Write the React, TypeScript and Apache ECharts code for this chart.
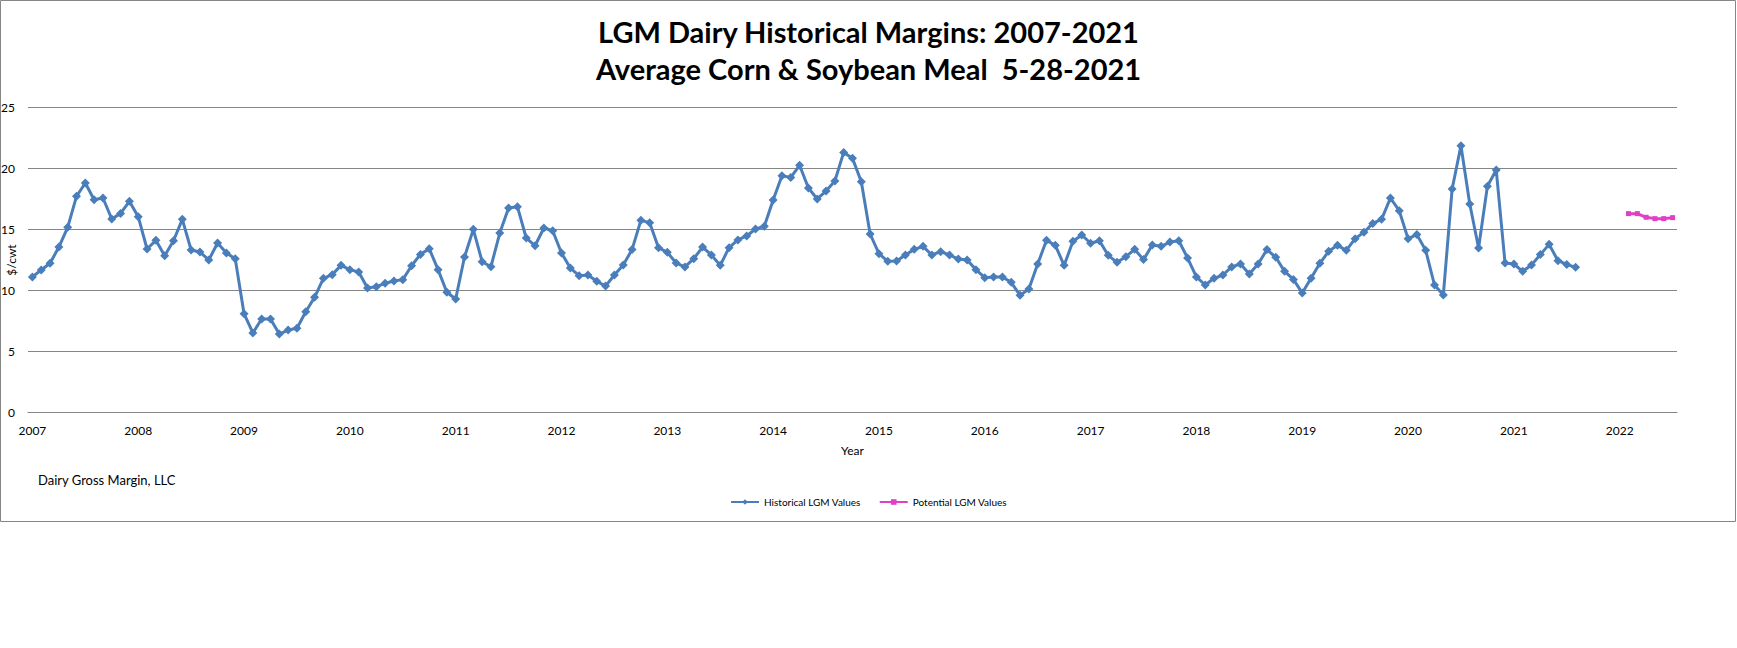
import React, { useEffect, useRef } from "react";
import * as echarts from "echarts";

// ---- Data ----
const startYear = 2007;
const monthCount = 187; // Jan 2007 .. Jul 2022
const categories: string[] = [];
for (let i = 0; i < monthCount; i++) {
  const y = startYear + Math.floor(i / 12);
  const m = (i % 12) + 1;
  categories.push(`${y}-${m < 10 ? "0" + m : m}`);
}

// Historical LGM values, monthly from Jan 2007
const historicalValues: number[] = [
  11.07, 11.64, 12.19, 13.52, 15.14, 17.68, 18.77, 17.4, 17.54, 15.82, 16.28, 17.27,
  16.01, 13.36, 14.07, 12.81, 14.04, 15.79, 13.28, 13.11, 12.46, 13.85, 13.03, 12.57,
  8.06, 6.48, 7.62, 7.62, 6.39, 6.72, 6.86, 8.22, 9.4, 10.96, 11.26, 12.02,
  11.67, 11.48, 10.16, 10.27, 10.55, 10.74, 10.85, 11.99, 12.92, 13.39, 11.67, 9.81,
  9.26, 12.7, 14.97, 12.32, 11.91, 14.67, 16.72, 16.83, 14.26, 13.63, 15.08, 14.86,
  13.03, 11.8, 11.17, 11.23, 10.71, 10.33, 11.23, 12.05, 13.31, 15.71, 15.52, 13.47,
  13.09, 12.21, 11.89, 12.57, 13.52, 12.87, 12.02, 13.47, 14.1, 14.43, 15.0, 15.22,
  17.38, 19.37, 19.23, 20.22, 18.36, 17.46, 18.11, 18.93, 21.28, 20.79, 18.88, 14.59,
  12.98, 12.35, 12.38, 12.87, 13.33, 13.58, 12.87, 13.14, 12.87, 12.54, 12.46, 11.67,
  11.01, 11.07, 11.07, 10.63, 9.56, 10.08, 12.13, 14.07, 13.66, 12.02, 13.99, 14.51,
  13.83, 14.04, 12.84, 12.27, 12.73, 13.33, 12.49, 13.69, 13.58, 13.93, 14.04, 12.62,
  11.07, 10.41, 10.96, 11.23, 11.89, 12.13, 11.31, 12.13, 13.31, 12.68, 11.53, 10.87,
  9.75, 10.96, 12.19, 13.17, 13.66, 13.25, 14.21, 14.73, 15.46, 15.79, 17.54, 16.5,
  14.21, 14.54, 13.25, 10.41, 9.59, 18.28, 21.83, 17.05, 13.44, 18.5, 19.84, 12.21,
  12.13, 11.53, 12.05, 12.9, 13.74, 12.4, 12.1, 11.86,
];

// Potential LGM values, monthly from Feb 2022
const potentialStart = "2022-02";
const potentialValues: number[] = [16.26, 16.26, 15.96, 15.85, 15.85, 15.93];

const yTicks = { min: 0, max: 25, interval: 5 };

const titleLines = [
  "LGM Dairy Historical Margins: 2007-2021",
  "Average Corn & Soybean Meal  5-28-2021",
];
const yAxisTitle = "$/cwt";
const xAxisTitle = "Year";
const sourceNote = "Dairy Gross Margin, LLC";

const FONT = "Lato, 'Noto Sans', sans-serif";

export default function App() {
  const ref = useRef<HTMLDivElement>(null);

  useEffect(() => {
    if (!ref.current) return;
    const chart = echarts.init(ref.current, undefined, { renderer: "svg" });

    const pStart = categories.indexOf(potentialStart);
    const potentialData: (number | null)[] = categories.map((_, i) =>
      i >= pStart && i < pStart + potentialValues.length ? potentialValues[i - pStart] : null
    );

    chart.setOption({
      animation: false,
      backgroundColor: "#ffffff",
      textStyle: { fontFamily: FONT },
      title: {
        text: titleLines.join("\n"),
        left: "center",
        top: 13,
        padding: 0,
        textStyle: {
          fontFamily: FONT,
          fontSize: 29,
          fontWeight: "bold",
          color: "#000000",
          lineHeight: 37,
        },
      },
      legend: {
        left: "center",
        top: 492,
        itemWidth: 28,
        itemHeight: 7,
        itemGap: 18,
        textStyle: { fontFamily: FONT, fontSize: 10, color: "#000000" },
        data: ["Historical LGM Values", "Potential LGM Values"],
      },
      grid: {
        left: 28,
        right: 60,
        top: 107,
        bottom: 236,
        containLabel: false,
        outerBoundsMode: "none",
      },
      xAxis: {
        type: "category",
        data: categories,
        boundaryGap: true,
        name: xAxisTitle,
        nameLocation: "middle",
        nameGap: 32,
        nameTextStyle: { fontFamily: FONT, fontSize: 12, color: "#000000" },
        axisLine: { show: true, lineStyle: { color: "#868686", width: 1 } },
        axisTick: { show: false },
        axisLabel: {
          interval: 11,
          margin: 12,
          fontSize: 12,
          color: "#000000",
          fontFamily: FONT,
          formatter: (v: string) => v.slice(0, 4),
        },
        splitLine: { show: false },
      },
      yAxis: {
        type: "value",
        min: yTicks.min,
        max: yTicks.max,
        interval: yTicks.interval,
        axisLine: { show: false },
        axisTick: { show: false },
        axisLabel: { margin: 13, fontSize: 12, color: "#000000", fontFamily: FONT },
        splitLine: { show: true, lineStyle: { color: "#868686", width: 1 } },
      },
      graphic: [
        {
          type: "rect",
          shape: { x: 0.5, y: 0.5, width: 1735, height: 521 },
          style: { fill: "none", stroke: "#868686", lineWidth: 1 },
          silent: true,
        },
        {
          type: "text",
          x: 11,
          y: 260,
          rotation: Math.PI / 2,
          style: {
            text: yAxisTitle,
            fontFamily: FONT,
            fontSize: 12,
            fill: "#000000",
            align: "center",
            verticalAlign: "middle",
          },
        },
        {
          type: "text",
          left: 38,
          top: 473,
          style: {
            text: sourceNote,
            fontFamily: FONT,
            fontSize: 13,
            fill: "#000000",
          },
        },
      ],
      series: [
        {
          name: "Historical LGM Values",
          type: "line",
          data: historicalValues,
          symbol: "diamond",
          symbolSize: 9,
          showAllSymbol: true,
          lineStyle: { color: "#4A7EBB", width: 3 },
          itemStyle: { color: "#4A7EBB" },
        },
        {
          name: "Potential LGM Values",
          type: "line",
          data: potentialData,
          symbol: "rect",
          symbolSize: 5,
          showAllSymbol: true,
          lineStyle: { color: "#E040C8", width: 3 },
          itemStyle: { color: "#E040C8" },
        },
      ],
    });

    return () => chart.dispose();
  }, []);

  return (
    <div
      ref={ref}
      style={{ position: "absolute", left: 0, top: 0, width: 1737, height: 648 }}
    />
  );
}
